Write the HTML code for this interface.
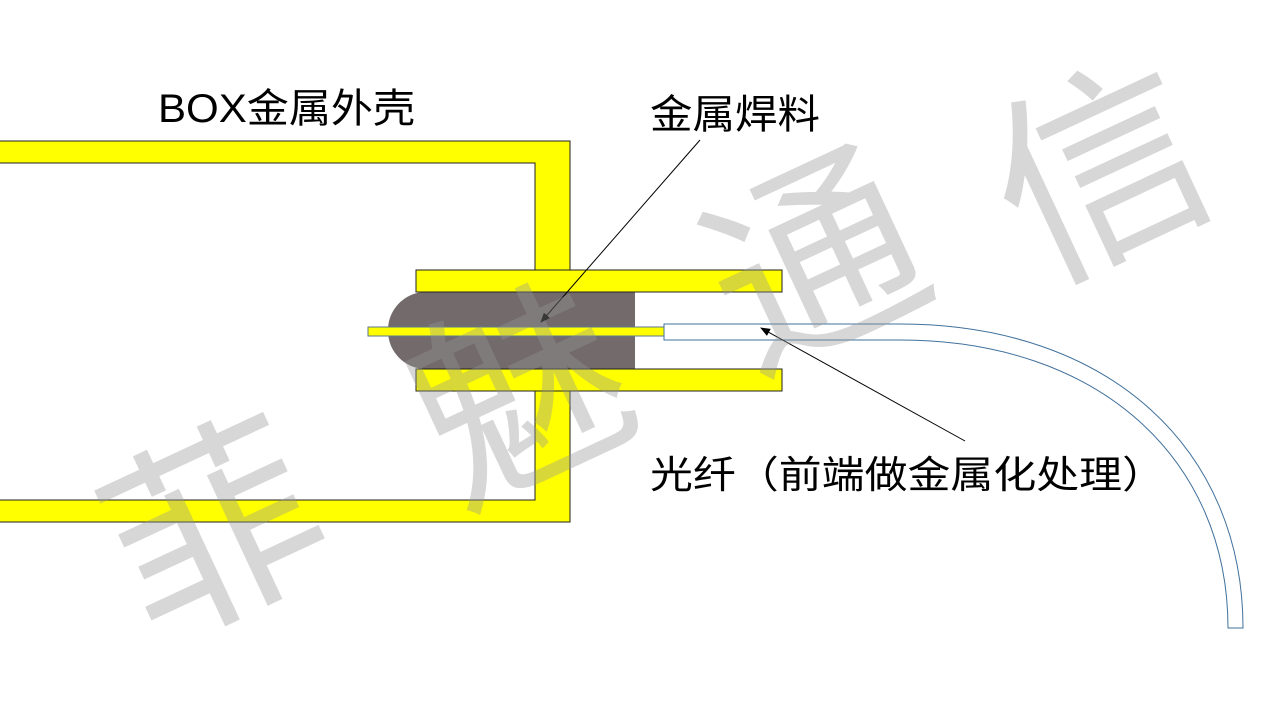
<!DOCTYPE html>
<html><head><meta charset="utf-8"><style>
html,body{margin:0;padding:0;background:#fff;}
body{width:1280px;height:720px;overflow:hidden;}
</style></head><body>
<svg width="1280" height="720" viewBox="0 0 1280 720" xmlns="http://www.w3.org/2000/svg">
<defs>
<marker id="ah" markerWidth="10" markerHeight="8" refX="9" refY="4" orient="auto" markerUnits="userSpaceOnUse">
<path d="M0,0 L10,4 L0,8 Z" fill="#000"/>
</marker>
</defs>
<path d="M-5,141 L570,141 L570,522 L-5,522 L-5,500 L535,500 L535,163 L-5,163 Z" fill="#ffff00" stroke="#222" stroke-width="1"/>
<path d="M425,292 L635,292 L635,369 L425,369 A38,38 0 0 1 388,331 A38,38 0 0 1 425,292 Z" fill="#736b6b"/>
<rect x="416" y="270" width="366" height="22" fill="#ffff00" stroke="#222" stroke-width="1"/>
<rect x="416" y="369" width="366" height="22" fill="#ffff00" stroke="#222" stroke-width="1"/>
<rect x="368" y="327" width="296" height="9" fill="#ffff00" stroke="#5a7a8c" stroke-width="1"/>
<path d="M664,324 L900,324 C1110,324 1243,450 1243,628 L1228,628 C1228,460 1100,340 900,340 L664,340 Z" fill="#fff" stroke="#41719c" stroke-width="1"/>
<line x1="700" y1="140" x2="541" y2="322" stroke="#000" stroke-width="1" marker-end="url(#ah)"/>
<line x1="965" y1="441" x2="761" y2="328" stroke="#000" stroke-width="1" marker-end="url(#ah)"/>
<g font-family="'Liberation Sans','Noto Sans CJK SC',sans-serif" fill="#000">
<text x="158" y="122" font-size="40" textLength="257" lengthAdjust="spacingAndGlyphs">BOX金属外壳</text>
<text x="650" y="128" font-size="40" textLength="170" lengthAdjust="spacingAndGlyphs">金属焊料</text>
<text x="650" y="488" font-size="38" textLength="515" lengthAdjust="spacingAndGlyphs">光纤（前端做金属化处理）</text>
</g>
<g font-family="'Noto Sans CJK SC',sans-serif" font-size="210" fill="rgba(150,150,150,0.38)" text-anchor="middle">
<text transform="translate(215,530) rotate(-25)" dy="75">菲</text>
<text transform="translate(520,395) rotate(-25)" dy="75">魅</text>
<text transform="translate(815,262) rotate(-25)" dy="75">通</text>
<text transform="translate(1100,172) rotate(-25)" dy="75">信</text>
</g>
</svg>
</body></html>
